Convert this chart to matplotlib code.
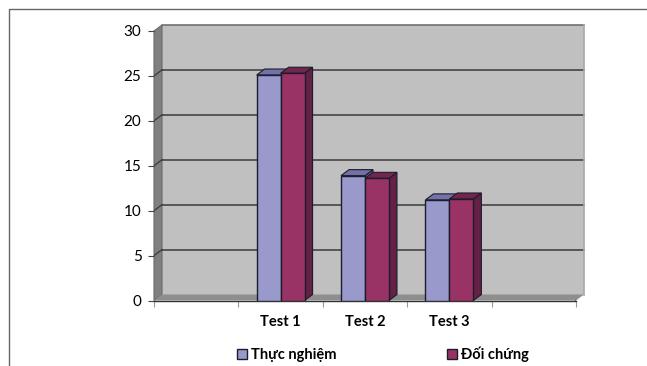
# -*- coding: utf-8 -*-
import matplotlib
matplotlib.use('Agg')
import matplotlib.pyplot as plt
from matplotlib.lines import Line2D
from matplotlib.patches import Polygon, Rectangle
from matplotlib.transforms import Affine2D

categories = ['', 'Test 1', 'Test 2', 'Test 3', '']
bar_slots = [1, 2, 3]
thuc_nghiem = [25.1, 13.9, 11.2]
doi_chung = [25.3, 13.6, 11.3]
y_ticks = [0, 5, 10, 15, 20, 25, 30]
series_names = ['Thực nghiệm', 'Đối chứng']

DX, DY = 8, 6  # depth of the fake 3d, pixels
BAR_W = 0.284

plt.rcParams['font.family'] = ['Lato', 'Open Sans', 'DejaVu Sans']

fig = plt.figure(figsize=(6.47, 3.66), dpi=100)
ax = fig.add_axes([154 / 647, 65.5 / 366, 422 / 647, 269.5 / 366])
ax.set_xlim(0, len(categories))
ax.set_ylim(0, 30)
ax.patch.set_visible(False)
for s in ax.spines.values():
    s.set_visible(False)
back = ax.transData + Affine2D().translate(DX, DY)


def depth_face(x0, y0, x1, y1, **kw):
    # quad running from an edge on the front plane to the same edge on the back plane
    p = ax.transData.transform([(x0, y0), (x1, y1)])
    pts = [p[0], p[1], p[1] + (DX, DY), p[0] + (DX, DY)]
    ax.add_patch(Polygon(pts, closed=True, transform=None, clip_on=False, **kw))


# walls
ax.add_patch(Rectangle((0, 0), 5, 30, transform=back, facecolor='#c0c0c0',
                       edgecolor='none', clip_on=False, zorder=1))
depth_face(0, 0, 0, 30, facecolor='#808080', edgecolor='#6a6a6a', lw=0.8, zorder=1.5)
depth_face(0, 0, 5, 0, facecolor='#8e8e8e', edgecolor='none', zorder=1.5)

# gridlines go along the left wall then across the back
for v in y_ticks[1:]:
    ax.plot([0, 5], [v, v], transform=back, color='#3a3a3a' if v < 30 else '#666666',
            lw=1.1, clip_on=False, zorder=2)
    p = ax.transData.transform((0, v))
    ax.add_line(Line2D([p[0], p[0] + DX], [p[1], p[1] + DY], transform=None,
                       color='#3a3a3a', lw=0.9, zorder=2))
ax.plot([5, 5], [0, 30], transform=back, color='#a8a8a8', lw=1.2, clip_on=False, zorder=2)
ax.plot([0, 5], [0, 0], color='#333333', lw=1.0, clip_on=False, zorder=2)
depth_p = ax.transData.transform((5, 0))
ax.add_line(Line2D([depth_p[0], depth_p[0] + DX], [depth_p[1], depth_p[1] + DY],
                   transform=None, color='#333333', lw=0.9, zorder=2))


def bars(slots, values, side, front, top, dark):
    lefts = [c + 0.5 + (side - 1) * BAR_W for c in slots]
    cont = ax.bar(lefts, values, width=BAR_W, align='edge', color=front,
                  edgecolor='#1c1c2c', linewidth=1.0, zorder=4)
    for l, v in zip(lefts, values):
        depth_face(l + BAR_W, 0, l + BAR_W, v, facecolor=dark, edgecolor='#1c1c2c', lw=0.8, zorder=3)
        depth_face(l, v, l + BAR_W, v, facecolor=top, edgecolor='#1c1c2c', lw=0.8, zorder=3)
    return cont


b1 = bars(bar_slots, thuc_nghiem, 0, '#9999cc', '#7272a8', '#5f5f8f')
b2 = bars(bar_slots, doi_chung, 1, '#993366', '#73264d', '#632145')

ax.set_yticks(y_ticks)
ax.set_xticks(range(len(categories) + 1))
ax.set_xticklabels([])
ax.tick_params(axis='y', length=4, width=0.8, color='#444444', pad=5, labelsize=11, labelcolor='black')
ax.tick_params(axis='x', length=4, width=0.8, color='#999999')
for i, c in enumerate(categories):
    if c:
        ax.annotate(c, (i + 0.5, 0), xytext=(0, -21), textcoords='offset pixels', ha='center',
                    va='center', fontsize=10.5, fontweight='bold')

leg = fig.legend([b1, b2], series_names, ncol=2, loc='center left', bbox_to_anchor=(237 / 647, 1 - 354 / 366),
                 frameon=False, prop={'size': 10.5, 'weight': 'bold'}, handlelength=0.7, handleheight=0.7,
                 handletextpad=0.25, columnspacing=7.6, borderpad=0, borderaxespad=0)

# frame of the pasted picture
fig.add_artist(Line2D([8.5 / 647, 8.5 / 647, 1], [0, 1 - 8.5 / 366, 1 - 8.5 / 366],
                      color='#666666', lw=1.0))

fig.savefig('out.png', dpi=100)
